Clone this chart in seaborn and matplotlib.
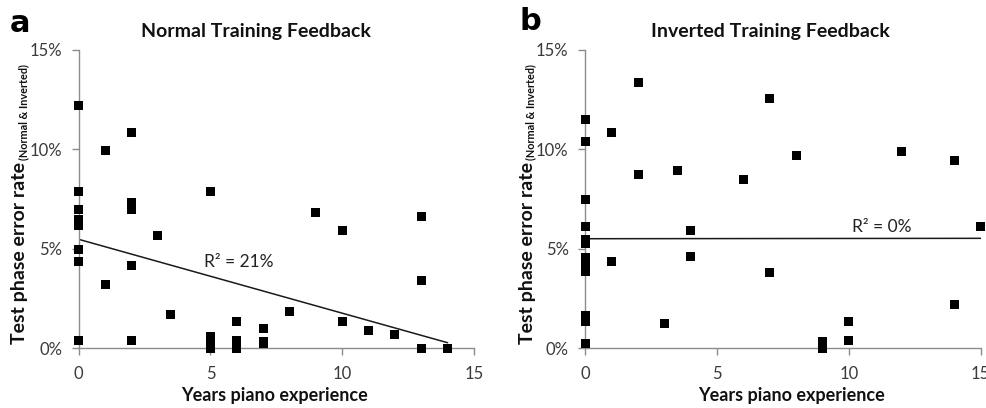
import matplotlib
matplotlib.use("Agg")
import matplotlib.pyplot as plt
import seaborn as sns
import numpy as np
import pandas as pd
from matplotlib.ticker import FuncFormatter

# ---- data (values in percent) ----
years_a = [0, 0, 0, 0, 0, 0, 0, 0, 0, 0,
           1, 1,
           2, 2, 2, 2, 2,
           3, 3.5,
           5, 5, 5, 5, 5,
           6, 6, 6,
           7, 7, 7,
           8, 9, 10, 10, 11, 12,
           13, 13, 13, 14]
err_a = [12.2, 7.9, 7.0, 6.5, 6.35, 6.2, 4.95, 4.35, 0.4, 0.4,
         9.95, 3.2,
         10.85, 7.35, 7.0, 4.15, 0.4,
         5.65, 1.7,
         7.9, 0.6, 0.4, 0.2, 0.0,
         1.35, 0.4, 0.0,
         1.0, 0.35, 0.25,
         1.85, 6.85, 5.9, 1.35, 0.9, 0.7,
         6.65, 3.4, 0.0, 0.0]

years_b = [0, 0, 0, 0, 0, 0, 0, 0, 0, 0, 0, 0, 0, 0, 0,
           1, 1, 2, 2, 3, 3.5, 4, 4, 6, 7, 7, 8, 9, 9, 10, 10,
           12, 14, 14, 15]
err_b = [11.5, 10.4, 7.5, 6.1, 5.45, 5.35, 5.25, 4.55, 4.35, 4.05, 3.85,
         1.65, 1.5, 1.35, 0.25,
         10.85, 4.35, 13.35, 8.75, 1.25, 8.95, 5.9, 4.6, 8.5, 12.55, 3.8,
         9.7, 0.35, 0.0, 1.35, 0.4,
         9.9, 9.45, 2.2, 6.1]

# linear trend lines: start x, end x, start y, end y
trend_a_x = [0, 14]
trend_a_y = [5.48, 0.28]
trend_b_x = [0, 15]
trend_b_y = [5.51, 5.53]

r2_a = "R\u00b2 = 21%"
r2_b = "R\u00b2 = 0%"
titles = ["Normal Training Feedback", "Inverted Training Feedback"]
panel_letters = ["a", "b"]
x_ticks = [0, 5, 10, 15]
y_ticks = [0, 5, 10, 15]

sns.set_theme(style="white")
plt.rcParams["font.family"] = ["Lato", "DejaVu Sans"]

W, H = 987, 408
fig = plt.figure(figsize=(W / 100, H / 100), dpi=100)

def px_axes(left, right, top, bottom):
    return fig.add_axes([left / W, (H - bottom) / H, (right - left) / W, (bottom - top) / H])

ax_a = px_axes(78.7, 474.0, 50.0, 348.3)
ax_b = px_axes(585.3, 980.7, 50.0, 348.3)

panels = [
    (ax_a, years_a, err_a, trend_a_x, trend_a_y, r2_a, (4.75, 4.35)),
    (ax_b, years_b, err_b, trend_b_x, trend_b_y, r2_b, (10.1, 6.12)),
]

spine_col = "#8c8c8c"
tick_col = "#3a3a3a"

for i, (ax, xs, ys, tx, ty, r2, r2pos) in enumerate(panels):
    df = pd.DataFrame({"years": xs, "err": ys})
    sns.lineplot(x=tx, y=ty, ax=ax, color="#1a1a1a", linewidth=1.1, zorder=2)
    sns.scatterplot(data=df, x="years", y="err", ax=ax, marker="s", s=42,
                    color="black", edgecolor="none", linewidth=0, zorder=3,
                    clip_on=False)
    ax.set_xlim(0, 15)
    ax.set_ylim(0, 15)
    ax.set_xticks(x_ticks)
    ax.set_yticks(y_ticks)
    ax.yaxis.set_major_formatter(FuncFormatter(lambda v, p: f"{v:.0f}%"))
    for s in ["top", "right"]:
        ax.spines[s].set_visible(False)
    for s in ["left", "bottom"]:
        ax.spines[s].set_color(spine_col)
        ax.spines[s].set_linewidth(1.0)
    ax.tick_params(axis="x", direction="out", length=5, width=1, color=spine_col,
                   labelsize=12, labelcolor=tick_col, pad=8, bottom=True)
    ax.tick_params(axis="y", direction="out", length=5, width=1, color=spine_col,
                   labelsize=12, labelcolor=tick_col, pad=7, left=True)
    ax.set_xlabel("")
    ax.set_ylabel("")
    ax.grid(False)
    ax.text(r2pos[0], r2pos[1], r2, fontsize=12.5, color="#222222",
            ha="left", va="center")

def fx(x):
    return x / W

def fy(y):
    return (H - y) / H

fig.text(fx(256), fy(31), titles[0], fontsize=14, fontweight="bold",
         ha="center", va="center", color="#111111")
fig.text(fx(770), fy(31), titles[1], fontsize=14, fontweight="bold",
         ha="center", va="center", color="#111111")
fig.text(fx(10), fy(24), panel_letters[0], fontsize=22, fontweight="bold",
         ha="left", va="center", family=["DejaVu Sans"], color="black")
fig.text(fx(519), fy(22), panel_letters[1], fontsize=22, fontweight="bold",
         ha="left", va="center", family=["DejaVu Sans"], color="black")

fig.text(fx(275), fy(396), "Years piano experience", fontsize=13,
         fontweight="bold", ha="center", va="center", color="#111111")
fig.text(fx(791), fy(396), "Years piano experience", fontsize=13,
         fontweight="bold", ha="center", va="center", color="#111111")

fig.canvas.draw()
renderer = fig.canvas.get_renderer()
for xoff in [0, 507]:
    t1 = fig.text(fx(20 + xoff), fy(344), "Test phase error rate", fontsize=14,
                  fontweight="bold", rotation=90, ha="center", va="bottom",
                  color="#111111")
    bb = t1.get_window_extent(renderer=renderer)
    top_px = bb.y1
    fig.text(fx(23.5 + xoff), (top_px + 2) / H, "(Normal & Inverted)", fontsize=7.8,
             fontweight="bold", rotation=90, ha="center", va="bottom",
             color="#111111")

fig.savefig("out.png", dpi=100, facecolor="white")
